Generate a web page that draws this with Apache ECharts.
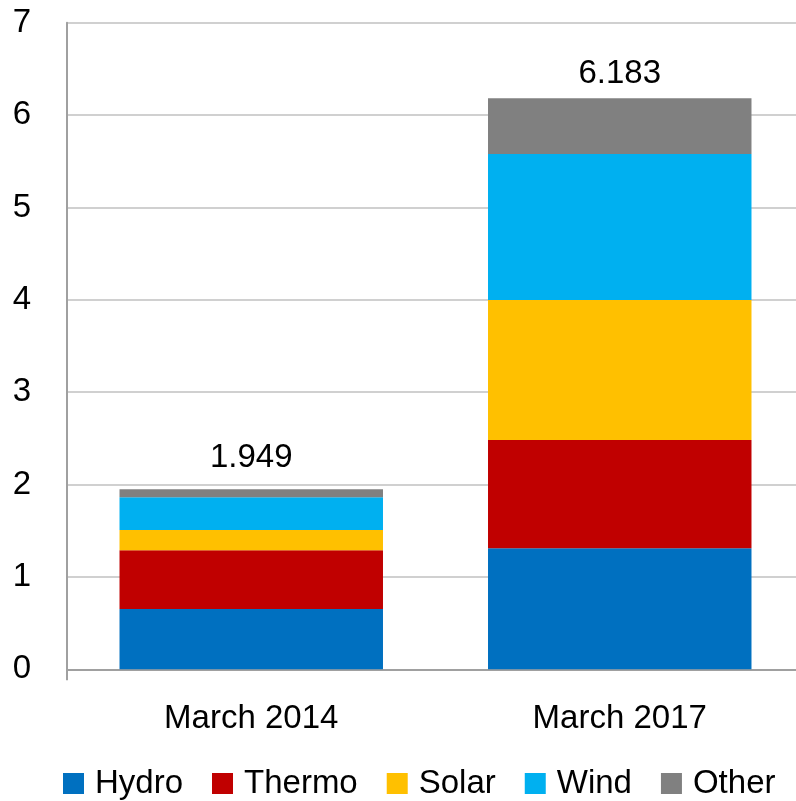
<!DOCTYPE html>
<html>
<head>
<meta charset="utf-8">
<script src="https://cdn.jsdelivr.net/npm/echarts@6/dist/echarts.min.js"></script>
<style>html,body{margin:0;padding:0;background:#fff;overflow:hidden;width:796px;height:801px}#c{width:812px;height:801px}</style>
</head>
<body>
<div id="c"></div>
<script>
const categories = ['March 2014', 'March 2017'];
const hydro  = [0.653, 1.310];
const thermo = [0.635, 1.172];
const solar  = [0.220, 1.516];
const wind   = [0.354, 1.581];
const other  = [0.087, 0.604];
const totals = ['1.949', '6.183'];
const yTicks = [0, 1, 2, 3, 4, 5, 6, 7];

const FONT = 'Liberation Sans';
const names = ['Hydro', 'Thermo', 'Solar', 'Wind', 'Other'];
const colors = ['#0070C0', '#C00000', '#FFC000', '#00B0F0', '#808080'];
const values = [hydro, thermo, solar, wind, other];
const labelGaps = [15, 8];

const chart = echarts.init(document.getElementById('c'), null, {renderer: 'canvas'});
const series = names.map((n, i) => {
  const last = i === names.length - 1;
  return {
    name: n,
    type: 'bar',
    stack: 'total',
    data: last ? values[i].map((v, k) => ({value: v, label: {distance: labelGaps[k]}})) : values[i],
    barCategoryGap: '28.5%',
    itemStyle: {color: colors[i]},
    label: last ? {
      show: true, position: 'top',
      fontFamily: FONT, fontSize: 33, color: '#000',
      formatter: p => totals[p.dataIndex]
    } : {show: false}
  };
});

chart.setOption({
  animation: false,
  textStyle: {fontFamily: FONT},
  grid: {left: 67, top: 22.7, width: 737, height: 646.6, containLabel: false},
  legend: {
    bottom: -4, left: 58,
    itemWidth: 21, itemHeight: 21, itemGap: 29,
    icon: 'rect',
    textStyle: {fontFamily: FONT, fontSize: 33, color: '#000', padding: [0, 0, 0, 6]},
    data: names
  },
  xAxis: {
    type: 'category',
    data: categories,
    axisLine: {lineStyle: {color: '#A0A0A0', width: 2}},
    axisTick: {show: true, length: 11, interval: (i) => i === 0, lineStyle: {color: '#A0A0A0', width: 2}},
    axisLabel: {fontFamily: FONT, fontSize: 33, color: '#000', margin: 33}
  },
  yAxis: {
    type: 'value',
    min: yTicks[0], max: yTicks[yTicks.length - 1], interval: 1,
    axisLine: {show: true, lineStyle: {color: '#A0A0A0', width: 2}},
    axisTick: {show: false},
    splitLine: {lineStyle: {color: '#D0D0D0', width: 2}},
    axisLabel: {fontFamily: FONT, fontSize: 33, color: '#000', margin: 36}
  },
  series: series
});
</script>
</body>
</html>
